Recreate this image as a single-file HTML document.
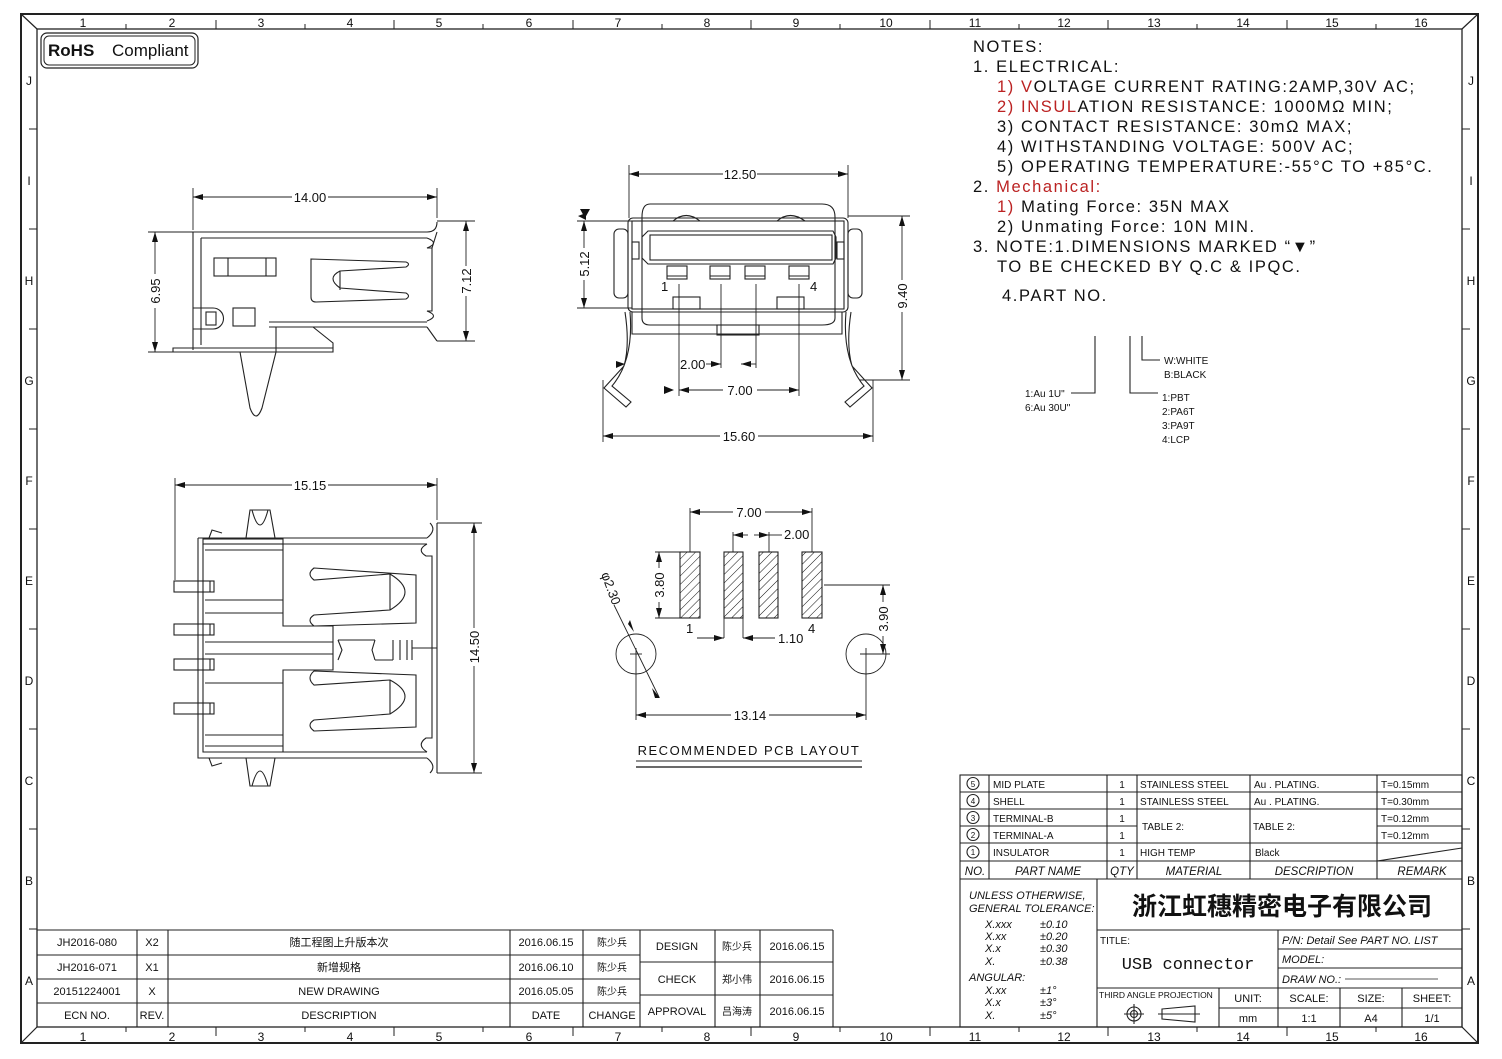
<!DOCTYPE html>
<html><head><meta charset="utf-8"><style>
html,body{margin:0;padding:0;background:#fff;}
svg{display:block;}
text{font-family:"Liberation Sans","Noto Sans CJK SC",sans-serif;fill:#111;}
.n{font-size:12px;}
.d{font-size:13px;}
.t{font-size:10px;}
.nt{font-size:16.5px;letter-spacing:1.6px;}
</style></head><body>
<svg width="1502" height="1059" viewBox="0 0 1502 1059" xmlns="http://www.w3.org/2000/svg">
<defs>
<marker id="a" viewBox="0 0 10 6" refX="10" refY="3" markerWidth="10" markerHeight="6" orient="auto-start-reverse" markerUnits="userSpaceOnUse"><path d="M0,0 L10,3 L0,6 z" fill="#111"/></marker>
<pattern id="h" width="6" height="6" patternUnits="userSpaceOnUse" patternTransform="rotate(45)"><line x1="0" y1="0" x2="0" y2="6" stroke="#111" stroke-width="1"/></pattern>
</defs>
<g fill="none" stroke="#222" stroke-width="1.2">
<rect x="21" y="14" width="1457" height="1029" stroke-width="2"/>
<rect x="37" y="29" width="1425" height="998" stroke-width="1.3"/>
<line x1="21" y1="14" x2="37" y2="29"/><line x1="1478" y1="14" x2="1462" y2="29"/>
<line x1="21" y1="1043" x2="37" y2="1027"/><line x1="1478" y1="1043" x2="1462" y2="1027"/>
</g>
<g stroke="#222" stroke-width="1">
<line x1="126" y1="24" x2="126" y2="29"/><line x1="216" y1="20" x2="216" y2="29"/><line x1="305" y1="24" x2="305" y2="29"/><line x1="394" y1="20" x2="394" y2="29"/><line x1="483" y1="24" x2="483" y2="29"/><line x1="573" y1="20" x2="573" y2="29"/><line x1="662" y1="24" x2="662" y2="29"/><line x1="751" y1="20" x2="751" y2="29"/><line x1="840" y1="24" x2="840" y2="29"/><line x1="930" y1="20" x2="930" y2="29"/><line x1="1019" y1="24" x2="1019" y2="29"/><line x1="1108" y1="20" x2="1108" y2="29"/><line x1="1197" y1="24" x2="1197" y2="29"/><line x1="1287" y1="20" x2="1287" y2="29"/><line x1="1376" y1="24" x2="1376" y2="29"/>
<line x1="126" y1="1027" x2="126" y2="1032"/><line x1="216" y1="1027" x2="216" y2="1036"/><line x1="305" y1="1027" x2="305" y2="1032"/><line x1="394" y1="1027" x2="394" y2="1036"/><line x1="483" y1="1027" x2="483" y2="1032"/><line x1="573" y1="1027" x2="573" y2="1036"/><line x1="662" y1="1027" x2="662" y2="1032"/><line x1="751" y1="1027" x2="751" y2="1036"/><line x1="840" y1="1027" x2="840" y2="1032"/><line x1="930" y1="1027" x2="930" y2="1036"/><line x1="1019" y1="1027" x2="1019" y2="1032"/><line x1="1108" y1="1027" x2="1108" y2="1036"/><line x1="1197" y1="1027" x2="1197" y2="1032"/><line x1="1287" y1="1027" x2="1287" y2="1036"/><line x1="1376" y1="1027" x2="1376" y2="1032"/>
<line x1="29" y1="129" x2="37" y2="129"/><line x1="29" y1="229" x2="37" y2="229"/><line x1="29" y1="329" x2="37" y2="329"/><line x1="29" y1="429" x2="37" y2="429"/><line x1="29" y1="529" x2="37" y2="529"/><line x1="29" y1="629" x2="37" y2="629"/><line x1="29" y1="729" x2="37" y2="729"/><line x1="29" y1="829" x2="37" y2="829"/><line x1="29" y1="929" x2="37" y2="929"/>
<line x1="1462" y1="129" x2="1470" y2="129"/><line x1="1462" y1="229" x2="1470" y2="229"/><line x1="1462" y1="329" x2="1470" y2="329"/><line x1="1462" y1="429" x2="1470" y2="429"/><line x1="1462" y1="529" x2="1470" y2="529"/><line x1="1462" y1="629" x2="1470" y2="629"/><line x1="1462" y1="729" x2="1470" y2="729"/><line x1="1462" y1="829" x2="1470" y2="829"/><line x1="1462" y1="929" x2="1470" y2="929"/>
</g>
<g class="n" text-anchor="middle">
<text x="83" y="27">1</text><text x="172" y="27">2</text><text x="261" y="27">3</text><text x="350" y="27">4</text><text x="439" y="27">5</text><text x="529" y="27">6</text><text x="618" y="27">7</text><text x="707" y="27">8</text><text x="796" y="27">9</text><text x="886" y="27">10</text><text x="975" y="27">11</text><text x="1064" y="27">12</text><text x="1154" y="27">13</text><text x="1243" y="27">14</text><text x="1332" y="27">15</text><text x="1421" y="27">16</text>
<text x="83" y="1041">1</text><text x="172" y="1041">2</text><text x="261" y="1041">3</text><text x="350" y="1041">4</text><text x="439" y="1041">5</text><text x="529" y="1041">6</text><text x="618" y="1041">7</text><text x="707" y="1041">8</text><text x="796" y="1041">9</text><text x="886" y="1041">10</text><text x="975" y="1041">11</text><text x="1064" y="1041">12</text><text x="1154" y="1041">13</text><text x="1243" y="1041">14</text><text x="1332" y="1041">15</text><text x="1421" y="1041">16</text>
<text x="29" y="85">J</text><text x="29" y="185">I</text><text x="29" y="285">H</text><text x="29" y="385">G</text><text x="29" y="485">F</text><text x="29" y="585">E</text><text x="29" y="685">D</text><text x="29" y="785">C</text><text x="29" y="885">B</text><text x="29" y="985">A</text>
<text x="1471" y="85">J</text><text x="1471" y="185">I</text><text x="1471" y="285">H</text><text x="1471" y="385">G</text><text x="1471" y="485">F</text><text x="1471" y="585">E</text><text x="1471" y="685">D</text><text x="1471" y="785">C</text><text x="1471" y="885">B</text><text x="1471" y="985">A</text>
</g>
<rect x="41" y="33" width="157" height="35" rx="6" fill="none" stroke="#222" stroke-width="1.2"/>
<rect x="44" y="36" width="151" height="29" rx="5" fill="none" stroke="#222" stroke-width="1"/>
<text x="48" y="56" style="font-size:17px;font-weight:bold">RoHS</text>
<text x="112" y="56" style="font-size:17px">Compliant</text>

<g class="nt">
<text x="973" y="52">NOTES:</text>
<text x="973" y="72">1. ELECTRICAL:</text>
<text x="997" y="92"><tspan fill="#b22">1) V</tspan>OLTAGE CURRENT RATING:2AMP,30V AC;</text>
<text x="997" y="112"><tspan fill="#b22">2) INSUL</tspan>ATION RESISTANCE: 1000MΩ MIN;</text>
<text x="997" y="132">3) CONTACT RESISTANCE: 30mΩ MAX;</text>
<text x="997" y="152">4) WITHSTANDING VOLTAGE: 500V AC;</text>
<text x="997" y="172">5) OPERATING TEMPERATURE:-55°C TO +85°C.</text>
<text x="973" y="192">2. <tspan fill="#b22">Mechanical:</tspan></text>
<text x="997" y="212"><tspan fill="#b22">1) </tspan>Mating Force:  35N MAX</text>
<text x="997" y="232">2) Unmating Force:  10N MIN.</text>
<text x="973" y="252">3. NOTE:1.DIMENSIONS MARKED “▼”</text>
<text x="997" y="272">TO BE CHECKED BY Q.C &amp; IPQC.</text>
<text x="1002" y="301">4.PART NO.</text>
</g>
<g fill="none" stroke="#222" stroke-width="1.1">
<polyline points="1095,336 1095,393 1071,393"/>
<polyline points="1130,336 1130,393 1158,393"/>
<polyline points="1142,336 1142,360 1160,360"/>
</g>
<g class="t">
<text x="1025" y="397">1:Au 1U"</text><text x="1025" y="411">6:Au 30U"</text>
<text x="1164" y="364">W:WHITE</text><text x="1164" y="378">B:BLACK</text>
<text x="1162" y="401">1:PBT</text><text x="1162" y="415">2:PA6T</text><text x="1162" y="429">3:PA9T</text><text x="1162" y="443">4:LCP</text>
</g>

<g fill="none" stroke="#222" stroke-width="1.1">
<path d="M193,232 L427,232 Q437,232 437,222 M193,232 L193,350 M201,238 L427,238 M427,238 Q440,243 427,248 L432,248 L432,311 L427,311 Q440,316 427,321"/>
<line x1="201" y1="238" x2="201" y2="345"/>
<line x1="269" y1="322" x2="427" y2="322"/><line x1="269" y1="327" x2="427" y2="327"/><line x1="427" y1="327" x2="437" y2="341"/>
<line x1="432" y1="248" x2="437" y2="232"/>
<rect x="214" y="258" width="62" height="18"/><line x1="228" y1="258" x2="228" y2="276"/><line x1="266" y1="258" x2="266" y2="276"/>
<path d="M311,259 L406,262 Q411,264 406,267 L340,271 Q326,278 340,288 L406,293 Q411,296 406,299 L316,302 Q311,302 311,297 Z"/>
<line x1="340" y1="271" x2="340" y2="290"/>
<path d="M193,308 L213,308 A10,10 0 0 1 213,329 L193,329"/><rect x="206" y="312" width="10" height="13"/>
<rect x="233" y="308" width="22" height="18"/>
<path d="M173,348 L333,348 L333,352 L173,352 Z"/>
<path d="M313,327 L333,343 L333,348 M281,327 L275,327"/>
<path d="M240,352 L250,408 Q256,424 262,408 L276,352"/>
<path d="M276,352 L276,327"/>
</g>
<g fill="none" stroke="#222" stroke-width="0.9">
<line x1="193" y1="230" x2="193" y2="188"/><line x1="437" y1="218" x2="437" y2="188"/>
<line x1="193" y1="197" x2="437" y2="197" marker-start="url(#a)" marker-end="url(#a)"/>
<line x1="148" y1="232" x2="193" y2="232"/><line x1="148" y1="352" x2="173" y2="352"/>
<line x1="155" y1="232" x2="155" y2="352" marker-start="url(#a)" marker-end="url(#a)"/>
<line x1="437" y1="221" x2="475" y2="221"/><line x1="437" y1="341" x2="475" y2="341"/>
<line x1="466" y1="221" x2="466" y2="341" marker-start="url(#a)" marker-end="url(#a)"/>
</g>
<rect x="292" y="190" width="36" height="14" fill="#fff"/><text class="d" x="310" y="202" text-anchor="middle">14.00</text>
<rect x="148" y="274" width="14" height="34" fill="#fff"/><text class="d" transform="translate(160,291) rotate(-90)" text-anchor="middle">6.95</text>
<rect x="459" y="266" width="14" height="30" fill="#fff"/><text class="d" transform="translate(471,281) rotate(-90)" text-anchor="middle">7.12</text>

<g fill="none" stroke="#222" stroke-width="1.1">
<path d="M650,204 L822,204 Q835,204 835,217 L835,318 Q835,325 822,325 L650,325 Q642,325 642,318 L642,217 Q642,204 650,204 Z"/>
<rect x="628" y="218" width="220" height="94" rx="5"/>
<rect x="632" y="221" width="212" height="88"/>
<rect x="614" y="229" width="14" height="69" rx="5"/><rect x="848" y="229" width="14" height="69" rx="5"/>
<rect x="632" y="242" width="7" height="17"/><rect x="837" y="242" width="7" height="17"/>
<path d="M648,231 L833,231 L836,237 L836,258 L833,264 L648,264 L642,258 L642,237 Z"/>
<rect x="650" y="235" width="182" height="25"/>
<rect x="667" y="266" width="20" height="13"/><rect x="710" y="266" width="20" height="13"/><rect x="745" y="266" width="20" height="13"/><rect x="789" y="266" width="20" height="13"/>
<line x1="667" y1="276" x2="687" y2="276"/><line x1="710" y1="276" x2="730" y2="276"/><line x1="745" y1="276" x2="765" y2="276"/><line x1="789" y1="276" x2="809" y2="276"/>
<path d="M673,221 Q686,210 700,221 M777,221 Q790,210 805,221"/>
<rect x="673" y="297" width="27" height="12"/><rect x="777" y="297" width="27" height="12"/>
<rect x="717" y="325" width="42" height="10"/>
<path d="M632,312 L632,334 L842,334 L842,312"/>
<path d="M625,312 Q630,345 624,366 L604,388 L626,407 L631,402 L612,386 Q634,360 630,312"/>
<path d="M851,312 Q846,345 852,366 L872,388 L850,407 L845,402 L864,386 Q842,360 846,312"/>
</g>
<g fill="none" stroke="#222" stroke-width="0.9">
<line x1="629" y1="165" x2="629" y2="218"/><line x1="848" y1="165" x2="848" y2="218"/>
<line x1="629" y1="174" x2="848" y2="174" marker-start="url(#a)" marker-end="url(#a)"/>
<line x1="577" y1="221" x2="632" y2="221"/><line x1="577" y1="308" x2="632" y2="308"/>
<line x1="584" y1="221" x2="584" y2="308" marker-start="url(#a)" marker-end="url(#a)"/>
<line x1="848" y1="216" x2="910" y2="216"/><line x1="860" y1="380" x2="910" y2="380"/>
<line x1="902" y1="216" x2="902" y2="380" marker-start="url(#a)" marker-end="url(#a)"/>
<line x1="679" y1="284" x2="679" y2="396"/><line x1="721" y1="284" x2="721" y2="368"/><line x1="756" y1="284" x2="756" y2="368"/><line x1="799" y1="284" x2="799" y2="396"/>
<line x1="706" y1="364" x2="721" y2="364" marker-end="url(#a)"/><line x1="756" y1="364" x2="741" y2="364" marker-end="url(#a)"/>
<line x1="679" y1="390" x2="799" y2="390" marker-start="url(#a)" marker-end="url(#a)"/>
<line x1="603" y1="380" x2="603" y2="442"/><line x1="873" y1="380" x2="873" y2="442"/>
<line x1="603" y1="436" x2="873" y2="436" marker-start="url(#a)" marker-end="url(#a)"/>
</g>
<path d="M580,209 L590,209 L585,218 Z M616,361 L625,364 L616,368 Z M664,386 L674,390 L664,394 Z M578,216 L586,213 L586,220Z" fill="#111"/>
<text class="d" x="661" y="291">1</text><text class="d" x="810" y="291">4</text>
<rect x="723" y="167" width="34" height="14" fill="#fff"/><text class="d" x="740" y="179" text-anchor="middle">12.50</text>
<rect x="577" y="248" width="14" height="32" fill="#fff"/><text class="d" transform="translate(589,264) rotate(-90)" text-anchor="middle">5.12</text>
<rect x="895" y="280" width="14" height="32" fill="#fff"/><text class="d" transform="translate(907,296) rotate(-90)" text-anchor="middle">9.40</text>
<text class="d" x="680" y="369">2.00</text>
<rect x="723" y="383" width="34" height="14" fill="#fff"/><text class="d" x="740" y="395" text-anchor="middle">7.00</text>
<rect x="720" y="429" width="38" height="14" fill="#fff"/><text class="d" x="739" y="441" text-anchor="middle">15.60</text>

<g fill="none" stroke="#222" stroke-width="1.1">
<path d="M198,538 L427,538 M198,538 L198,758 L427,758"/>
<path d="M203,544 L427,544 M203,544 L203,752 L427,752"/>
<path d="M427,538 Q437,530 430,523 M427,544 Q416,550 426,556 L432,556 L432,738 L426,738 Q416,745 427,752 M427,758 Q437,766 430,773"/>
<line x1="437" y1="523" x2="437" y2="773"/>
<rect x="203" y="539" width="80" height="5"/>
<line x1="205" y1="550" x2="283" y2="550"/><line x1="205" y1="600" x2="283" y2="600"/><line x1="205" y1="613" x2="283" y2="613"/>
<line x1="205" y1="642" x2="333" y2="642"/><line x1="205" y1="654" x2="333" y2="654"/>
<line x1="205" y1="683" x2="283" y2="683"/><line x1="205" y1="735" x2="283" y2="735"/><line x1="205" y1="746" x2="283" y2="746"/>
<path d="M283,544 L283,626 L333,626 L333,670 L283,670 L283,752"/>
<path d="M314,568 L416,575 L416,623 L314,626 Q306,620 314,615 L390,610 Q420,592 390,574 L314,580 Q306,574 314,568 Z"/>
<line x1="390" y1="574" x2="390" y2="610"/>
<path d="M314,671 L416,675 L416,727 L314,731 Q306,725 314,720 L390,714 Q420,696 390,680 L314,685 Q306,678 314,671 Z"/>
<line x1="390" y1="680" x2="390" y2="714"/>
<rect x="174" y="581" width="40" height="11"/><line x1="210" y1="581" x2="210" y2="592"/>
<rect x="174" y="624" width="40" height="11"/><line x1="210" y1="624" x2="210" y2="635"/>
<rect x="174" y="659" width="40" height="11"/><line x1="210" y1="659" x2="210" y2="670"/>
<rect x="174" y="703" width="40" height="11"/><line x1="210" y1="703" x2="210" y2="714"/>
<path d="M246,538 L250,510 L270,510 L275,538 M252,510 Q260,540 268,510"/>
<path d="M246,758 L250,786 L270,786 L275,758 M252,786 Q260,756 268,786"/>
<path d="M209,538 L212,530 L222,533"/><path d="M209,758 L212,766 L222,763"/>
<path d="M338,640 L342,650 L338,660 M375,640 L372,650 L375,660 M393,640 L393,660 M400,640 L400,660 M407,640 L407,660 M412,640 L412,660 M375,660 L393,660 M338,640 L375,640"/>
<line x1="412" y1="648" x2="437" y2="648"/>
</g>
<g fill="none" stroke="#222" stroke-width="0.9">
<line x1="175" y1="478" x2="175" y2="580"/><line x1="437" y1="478" x2="437" y2="520"/>
<line x1="175" y1="485" x2="437" y2="485" marker-start="url(#a)" marker-end="url(#a)"/>
<line x1="437" y1="523" x2="482" y2="523"/><line x1="437" y1="773" x2="482" y2="773"/>
<line x1="474" y1="523" x2="474" y2="773" marker-start="url(#a)" marker-end="url(#a)"/>
</g>
<rect x="292" y="478" width="36" height="14" fill="#fff"/><text class="d" x="310" y="490" text-anchor="middle">15.15</text>
<rect x="467" y="628" width="14" height="38" fill="#fff"/><text class="d" transform="translate(479,647) rotate(-90)" text-anchor="middle">14.50</text>

<g stroke="#222" stroke-width="1.1">
<rect x="680" y="552" width="20" height="66" fill="url(#h)"/>
<rect x="724" y="552" width="19" height="66" fill="url(#h)"/>
<rect x="759" y="552" width="19" height="66" fill="url(#h)"/>
<rect x="802" y="552" width="20" height="66" fill="url(#h)"/>
</g>
<g fill="none" stroke="#222" stroke-width="0.9">
<circle cx="636" cy="654" r="20"/><circle cx="866" cy="654" r="20"/>
<line x1="630" y1="654" x2="642" y2="654"/><line x1="636" y1="648" x2="636" y2="720"/>
<line x1="860" y1="654" x2="890" y2="654"/><line x1="866" y1="648" x2="866" y2="720"/>
<line x1="614" y1="605" x2="659" y2="697"/>
<line x1="690" y1="508" x2="690" y2="552"/><line x1="812" y1="508" x2="812" y2="552"/>
<line x1="690" y1="512" x2="812" y2="512" marker-start="url(#a)" marker-end="url(#a)"/>
<line x1="733" y1="532" x2="733" y2="552"/><line x1="769" y1="532" x2="769" y2="552"/>
<line x1="733" y1="535" x2="748" y2="535" marker-start="url(#a)"/><line x1="754" y1="535" x2="769" y2="535" marker-end="url(#a)"/><line x1="769" y1="535" x2="782" y2="535"/>
<line x1="655" y1="552" x2="680" y2="552"/><line x1="655" y1="618" x2="680" y2="618"/>
<line x1="659" y1="552" x2="659" y2="618" marker-start="url(#a)" marker-end="url(#a)"/>
<line x1="724" y1="618" x2="724" y2="638"/><line x1="743" y1="618" x2="743" y2="638"/>
<line x1="697" y1="638" x2="724" y2="638" marker-end="url(#a)"/><line x1="775" y1="638" x2="743" y2="638" marker-end="url(#a)"/>
<line x1="824" y1="585" x2="890" y2="585"/>
<line x1="883" y1="585" x2="883" y2="654" marker-start="url(#a)" marker-end="url(#a)"/>
<line x1="636" y1="715" x2="866" y2="715" marker-start="url(#a)" marker-end="url(#a)"/>
<line x1="636" y1="761" x2="862" y2="761"/><line x1="636" y1="767" x2="862" y2="767" stroke-width="1.8" stroke="#555"/>
</g>
<path d="M652,688 L660,698 L655,698 Z M628,624 L634,632 L630,620Z" fill="#111"/>
<rect x="733" y="505" width="32" height="14" fill="#fff"/><text class="d" x="749" y="517" text-anchor="middle">7.00</text>
<text class="d" x="784" y="539">2.00</text>
<text class="d" x="778" y="643">1.10</text>
<text class="d" x="686" y="633">1</text><text class="d" x="808" y="633">4</text>
<rect x="652" y="568" width="14" height="34" fill="#fff"/><text class="d" transform="translate(664,585) rotate(-90)" text-anchor="middle">3.80</text>
<rect x="876" y="602" width="14" height="34" fill="#fff"/><text class="d" transform="translate(888,619) rotate(-90)" text-anchor="middle">3.90</text>
<text class="d" transform="translate(601,574) rotate(70)">φ2.30</text>
<rect x="731" y="708" width="38" height="14" fill="#fff"/><text class="d" x="750" y="720" text-anchor="middle">13.14</text>
<text x="749" y="755" text-anchor="middle" style="font-size:13px;letter-spacing:1.5px">RECOMMENDED PCB LAYOUT</text>

<g fill="none" stroke="#222" stroke-width="1.1">
<rect x="960" y="775" width="502" height="252"/>
<line x1="960" y1="792" x2="1462" y2="792"/><line x1="960" y1="809" x2="1462" y2="809"/><line x1="960" y1="826" x2="1137" y2="826"/><line x1="1377" y1="826" x2="1462" y2="826"/><line x1="960" y1="843" x2="1462" y2="843"/><line x1="960" y1="861" x2="1462" y2="861"/><line x1="960" y1="879" x2="1462" y2="879"/>
<line x1="989" y1="775" x2="989" y2="879"/><line x1="1107" y1="775" x2="1107" y2="879"/><line x1="1137" y1="775" x2="1137" y2="879"/><line x1="1250" y1="775" x2="1250" y2="879"/><line x1="1377" y1="775" x2="1377" y2="879"/>
<line x1="1377" y1="861" x2="1462" y2="848"/>
<line x1="1097" y1="879" x2="1097" y2="1027"/>
<line x1="1097" y1="930" x2="1462" y2="930"/>
<line x1="1278" y1="930" x2="1278" y2="1027"/>
<line x1="1278" y1="949" x2="1462" y2="949"/><line x1="1278" y1="968" x2="1462" y2="968"/>
<line x1="1097" y1="988" x2="1462" y2="988"/><line x1="1219" y1="1008" x2="1462" y2="1008"/>
<line x1="1219" y1="988" x2="1219" y2="1027"/><line x1="1340" y1="988" x2="1340" y2="1027"/><line x1="1402" y1="988" x2="1402" y2="1027"/>
<line x1="1345" y1="979" x2="1438" y2="979" stroke-width="0.8"/>
<circle cx="973" cy="783.5" r="6"/><circle cx="973" cy="800.5" r="6"/><circle cx="973" cy="817.5" r="6"/><circle cx="973" cy="834.5" r="6"/><circle cx="973" cy="852" r="6"/>
<circle cx="1134" cy="1014" r="7"/><circle cx="1134" cy="1014" r="3.5"/><line x1="1124" y1="1014" x2="1144" y2="1014"/><line x1="1134" y1="1004" x2="1134" y2="1024"/>
<path d="M1162,1009 L1195,1006 L1195,1022 L1162,1019 Z M1158,1014 L1200,1014"/>
</g>
<g class="t" text-anchor="middle">
<text x="973" y="787" style="font-size:8px">5</text><text x="973" y="804" style="font-size:8px">4</text><text x="973" y="821" style="font-size:8px">3</text><text x="973" y="838" style="font-size:8px">2</text><text x="973" y="855" style="font-size:8px">1</text>
<text x="1122" y="788">1</text><text x="1122" y="805">1</text><text x="1122" y="822">1</text><text x="1122" y="839">1</text><text x="1122" y="856">1</text>
</g>
<g class="t">
<text x="993" y="788">MID PLATE</text><text x="993" y="805">SHELL</text><text x="993" y="822">TERMINAL-B</text><text x="993" y="839">TERMINAL-A</text><text x="993" y="856">INSULATOR</text>
<text x="1140" y="788">STAINLESS STEEL</text><text x="1140" y="805">STAINLESS STEEL</text><text x="1142" y="830">TABLE 2:</text><text x="1140" y="856">HIGH TEMP</text>
<text x="1254" y="788">Au . PLATING.</text><text x="1254" y="805">Au . PLATING.</text><text x="1253" y="830">TABLE 2:</text><text x="1255" y="856">Black</text>
<text x="1381" y="788">T=0.15mm</text><text x="1381" y="805">T=0.30mm</text><text x="1381" y="822">T=0.12mm</text><text x="1381" y="839">T=0.12mm</text>
</g>
<g style="font-size:11.5px;font-style:italic" text-anchor="middle">
<text x="975" y="875">NO.</text><text x="1048" y="875">PART NAME</text><text x="1122" y="875">QTY</text><text x="1194" y="875">MATERIAL</text><text x="1314" y="875">DESCRIPTION</text><text x="1422" y="875">REMARK</text>
</g>
<g style="font-size:11px;font-style:italic">
<text x="969" y="899">UNLESS OTHERWISE,</text><text x="969" y="912">GENERAL TOLERANCE:</text>
<text x="985" y="928">X.xxx</text><text x="1040" y="928">±0.10</text>
<text x="985" y="940">X.xx</text><text x="1040" y="940">±0.20</text>
<text x="985" y="952">X.x</text><text x="1040" y="952">±0.30</text>
<text x="985" y="965">X.</text><text x="1040" y="965">±0.38</text>
<text x="969" y="981">ANGULAR:</text>
<text x="985" y="994">X.xx</text><text x="1040" y="994">±1°</text>
<text x="985" y="1006">X.x</text><text x="1040" y="1006">±3°</text>
<text x="985" y="1019">X.</text><text x="1040" y="1019">±5°</text>
</g>
<text x="1282" y="915" text-anchor="middle" style="font-size:25px;font-weight:bold;font-family:'Noto Sans CJK SC',sans-serif">浙江虹穗精密电子有限公司</text>
<text class="t" x="1100" y="944">TITLE:</text>
<text x="1188" y="969" text-anchor="middle" style="font-size:17px;font-family:'Liberation Mono',monospace">USB connector</text>
<g style="font-size:11px;font-style:italic">
<text x="1282" y="944">P/N: Detail See PART NO. LIST</text>
<text x="1282" y="963">MODEL:</text>
<text x="1282" y="983">DRAW NO.:</text>
</g>
<text x="1099" y="998" style="font-size:8.5px">THIRD ANGLE PROJECTION</text>
<g class="t" text-anchor="middle" style="font-size:11px">
<text x="1248" y="1002">UNIT:</text><text x="1309" y="1002">SCALE:</text><text x="1371" y="1002">SIZE:</text><text x="1432" y="1002">SHEET:</text>
<text x="1248" y="1022">mm</text><text x="1309" y="1022">1:1</text><text x="1371" y="1022">A4</text><text x="1432" y="1022">1/1</text>
</g>

<g fill="none" stroke="#222" stroke-width="1.1">
<line x1="37" y1="930" x2="833" y2="930"/>
<line x1="37" y1="955" x2="640" y2="955"/><line x1="37" y1="979" x2="640" y2="979"/><line x1="37" y1="1003" x2="640" y2="1003"/>
<line x1="640" y1="962" x2="833" y2="962"/><line x1="640" y1="995" x2="833" y2="995"/>
<line x1="137" y1="930" x2="137" y2="1027"/><line x1="168" y1="930" x2="168" y2="1027"/><line x1="510" y1="930" x2="510" y2="1027"/><line x1="583" y1="930" x2="583" y2="1027"/><line x1="640" y1="930" x2="640" y2="1027"/><line x1="715" y1="930" x2="715" y2="1027"/><line x1="760" y1="930" x2="760" y2="1027"/><line x1="833" y1="930" x2="833" y2="1027"/>
</g>
<g text-anchor="middle" style="font-size:11px">
<text x="87" y="946">JH2016-080</text><text x="152" y="946">X2</text><text x="339" y="946" style="font-family:'Noto Sans CJK SC',sans-serif">随工程图上升版本次</text><text x="546" y="946">2016.06.15</text><text x="612" y="946" style="font-family:'Noto Sans CJK SC',sans-serif;font-size:10px">陈少兵</text>
<text x="87" y="971">JH2016-071</text><text x="152" y="971">X1</text><text x="339" y="971" style="font-family:'Noto Sans CJK SC',sans-serif">新增规格</text><text x="546" y="971">2016.06.10</text><text x="612" y="971" style="font-family:'Noto Sans CJK SC',sans-serif;font-size:10px">陈少兵</text>
<text x="87" y="995">20151224001</text><text x="152" y="995">X</text><text x="339" y="995">NEW DRAWING</text><text x="546" y="995">2016.05.05</text><text x="612" y="995" style="font-family:'Noto Sans CJK SC',sans-serif;font-size:10px">陈少兵</text>
<text x="87" y="1019">ECN NO.</text><text x="152" y="1019">REV.</text><text x="339" y="1019">DESCRIPTION</text><text x="546" y="1019">DATE</text><text x="612" y="1019">CHANGE</text>
<text x="677" y="950">DESIGN</text><text x="737" y="950" style="font-family:'Noto Sans CJK SC',sans-serif;font-size:10px">陈少兵</text><text x="797" y="950">2016.06.15</text>
<text x="677" y="983">CHECK</text><text x="737" y="983" style="font-family:'Noto Sans CJK SC',sans-serif;font-size:10px">郑小伟</text><text x="797" y="983">2016.06.15</text>
<text x="677" y="1015">APPROVAL</text><text x="737" y="1015" style="font-family:'Noto Sans CJK SC',sans-serif;font-size:10px">吕海涛</text><text x="797" y="1015">2016.06.15</text>
</g>
</svg>
</body></html>
